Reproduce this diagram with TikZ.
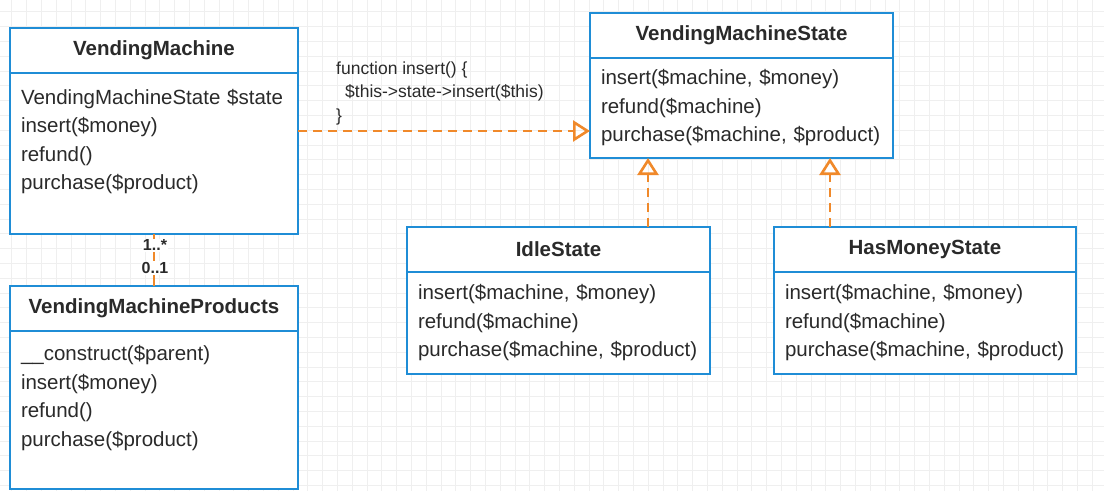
\documentclass[tikz,border=0pt]{standalone}
\usepackage{fontspec}
\setmainfont{Liberation Sans}
\usetikzlibrary{positioning, arrows.meta}
\definecolor{umlblue}{HTML}{1F8DD6}
\definecolor{umlorange}{HTML}{F0892A}
\definecolor{umltext}{HTML}{2A2A2A}
\definecolor{gridgray}{HTML}{EFEFEF}
\tikzset{
  umlhead/.style={draw=umlblue, line width=2.8pt, outer sep=0pt, fill=white, text=umltext,
    font=\bfseries\fontsize{20.5}{24}\selectfont, minimum height=45pt},
  umlbody/.style={draw=umlblue, line width=2.8pt, outer sep=0pt, fill=white, text=umltext,
    font=\fontsize{20.5}{28.5}\selectfont, align=left, inner xsep=11pt, inner ysep=0pt},
  realize/.style={draw=umlorange, line width=2.6pt, dash pattern=on 9pt off 6pt,
    -{Triangle[open, length=17pt, width=21pt]}},
  mult/.style={font=\bfseries\fontsize{16}{18}\selectfont, text=umltext, fill=white, inner sep=1pt},
  note/.style={font=\fontsize{17.5}{23.5}\selectfont, text=umltext, align=left, inner sep=0pt}
}
\begin{document}
\begin{tikzpicture}[x=1pt, y=-1pt]
\useasboundingbox[fill=white] (0,0) rectangle (1104,491);
\foreach \i in {0,...,74} {
  \draw[gridgray, line width=1pt] (11.8+14.8*\i,0) -- (11.8+14.8*\i,491);
}
\foreach \j in {0,...,32} {
  \draw[gridgray, line width=1pt] (0,11.8+14.8*\j) -- (1104,11.8+14.8*\j);
}

\node[umlhead, minimum width=288pt, anchor=north] (vm) at (154,28) {VendingMachine};
\node[umlbody, text width=266pt, minimum height=161pt, below=0pt of vm] (vmbody)
  {VendingMachineState \$state\\ insert(\$money)\\ refund()\\ purchase(\$product)\\ ~};

\node[umlhead, minimum width=288pt, anchor=north] (vmp) at (154,286) {VendingMachineProducts};
\node[umlbody, text width=266pt, minimum height=158pt, below=0pt of vmp] (vmpbody)
  {\_\_construct(\$parent)\\ insert(\$money)\\ refund()\\ purchase(\$product)\\ ~};

\node[umlhead, minimum width=303pt, anchor=north] (vms) at (741.5,13) {VendingMachineState};
\node[umlbody, text width=281pt, minimum height=100pt, below=0pt of vms] (vmsbody)
  {insert(\$machine, \$money)\\ refund(\$machine)\\ purchase(\$machine, \$product)};

\node[umlhead, minimum width=303pt, anchor=north] (idle) at (558.5,227) {IdleState};
\node[umlbody, text width=281pt, minimum height=102pt, below=0pt of idle] (idlebody)
  {insert(\$machine, \$money)\\ refund(\$machine)\\ purchase(\$machine, \$product)};

\node[umlhead, minimum width=302pt, anchor=north] (hm) at (925,227) {HasMoneyState};
\node[umlbody, text width=280pt, minimum height=102pt, below=0pt of hm] (hmbody)
  {insert(\$machine, \$money)\\ refund(\$machine)\\ purchase(\$machine, \$product)};

\draw[umlorange, line width=1.2pt] (vmbody.south) -- (vmp.north);
\node[mult] (many) at (155,245) {1..*};
\node[mult] (one) at (155,268) {0..1};

\node[note, anchor=west] (code) at (336,93)
  {function insert() \{\\ \hspace{9pt}\$this->state->insert(\$this)\\ \}};

\draw[realize] ([yshift=22.5pt]vmbody.east) coordinate (from) -- (from -| vmsbody.west);
\draw[realize] ([xshift=89.5pt]idle.north) coordinate (up1) -- (up1 |- vmsbody.south);
\draw[realize] ([xshift=-95pt]hm.north) coordinate (up2) -- (up2 |- vmsbody.south);
\end{tikzpicture}
\end{document}
